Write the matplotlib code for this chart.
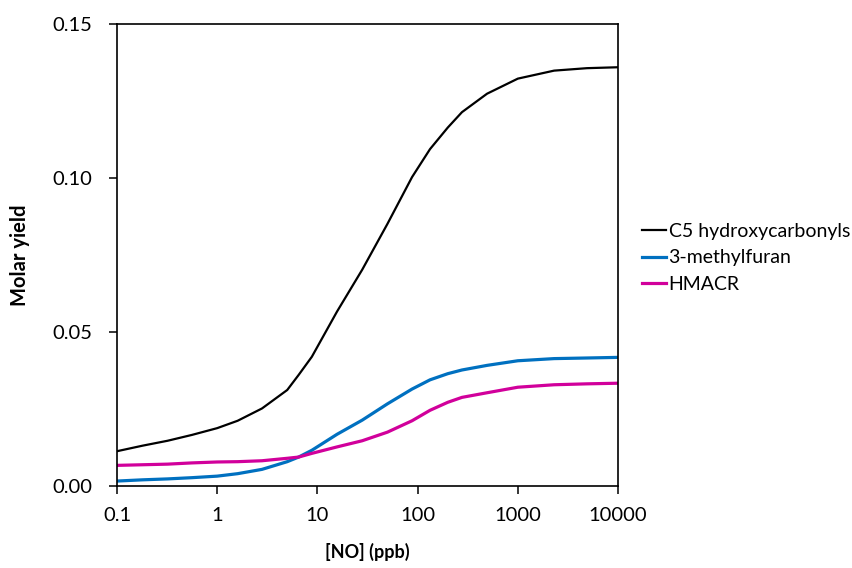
import matplotlib
matplotlib.use("Agg")
import matplotlib.pyplot as plt
from matplotlib.ticker import FixedLocator, NullLocator, FuncFormatter

# [NO] in ppb and modelled molar yields
no_ppb = [0.1, 0.18, 0.32, 0.56, 1, 1.6, 2.8, 5, 6.5, 8.8, 15.7, 28, 50, 88,
          133, 200, 277, 493, 1000, 2300, 4900, 10000]
c5_hydroxycarbonyls = [0.0113, 0.0131, 0.0147, 0.0166, 0.0188, 0.0212, 0.0252,
                       0.0312, 0.0361, 0.0420, 0.0567, 0.0703, 0.0852, 0.1004,
                       0.1095, 0.1165, 0.1215, 0.1275, 0.1324, 0.1350, 0.1358,
                       0.1361]
methylfuran = [0.0016, 0.0020, 0.0023, 0.0027, 0.0032, 0.0040, 0.0054, 0.0079,
               0.0094, 0.0116, 0.0168, 0.0214, 0.0267, 0.0315, 0.0345, 0.0365,
               0.0377, 0.0392, 0.0407, 0.0414, 0.0416, 0.0418]
hmacr = [0.0067, 0.0069, 0.0071, 0.0075, 0.0078, 0.0079, 0.0082, 0.0090,
         0.0094, 0.0106, 0.0127, 0.0147, 0.0175, 0.0212, 0.0246, 0.0272,
         0.0288, 0.0303, 0.0321, 0.0329, 0.0332, 0.0334]

x_ticks = [0.1, 1, 10, 100, 1000, 10000]
y_ticks = [0.00, 0.05, 0.10, 0.15]

plt.rcParams['font.family'] = ['Lato', 'DejaVu Sans']

fig = plt.figure(figsize=(8.52, 5.68), dpi=100)
ax = fig.add_axes([0.1373, 0.1444, 0.5881, 0.8125])

ax.plot(no_ppb, c5_hydroxycarbonyls, color='black', linewidth=1.6,
        label='C5 hydroxycarbonyls')
ax.plot(no_ppb, methylfuran, color='#0070C0', linewidth=2.3,
        label='3-methylfuran')
ax.plot(no_ppb, hmacr, color='#D1009B', linewidth=2.3, label='HMACR')

ax.set_xscale('log')
ax.set_xlim(0.1, 10000)
ax.set_ylim(0, 0.15)
ax.xaxis.set_major_locator(FixedLocator(x_ticks))
ax.xaxis.set_minor_locator(NullLocator())
ax.xaxis.set_major_formatter(FuncFormatter(lambda v, _: f"{v:g}"))
ax.yaxis.set_major_locator(FixedLocator(y_ticks))
ax.yaxis.set_major_formatter(FuncFormatter(lambda v, _: f"{v:.2f}"))

for side in ax.spines.values():
    side.set_linewidth(1.2)
ax.tick_params(axis='both', direction='out', length=6, width=1.1,
               labelsize=14.5)
ax.tick_params(axis='x', pad=9)
ax.tick_params(axis='y', pad=12)

ax.set_xlabel('[NO] (ppb)', fontsize=13, fontweight='bold', labelpad=14)
ax.set_ylabel('Molar yield', fontsize=14.5, fontweight='bold', labelpad=16)

fig.legend(loc='center left', bbox_to_anchor=(0.7535, 0.5458), frameon=False,
           fontsize=14, handlelength=1.25, handletextpad=0.12,
           labelspacing=0.5, borderpad=0, borderaxespad=0)

fig.savefig('out.png', dpi=100)
